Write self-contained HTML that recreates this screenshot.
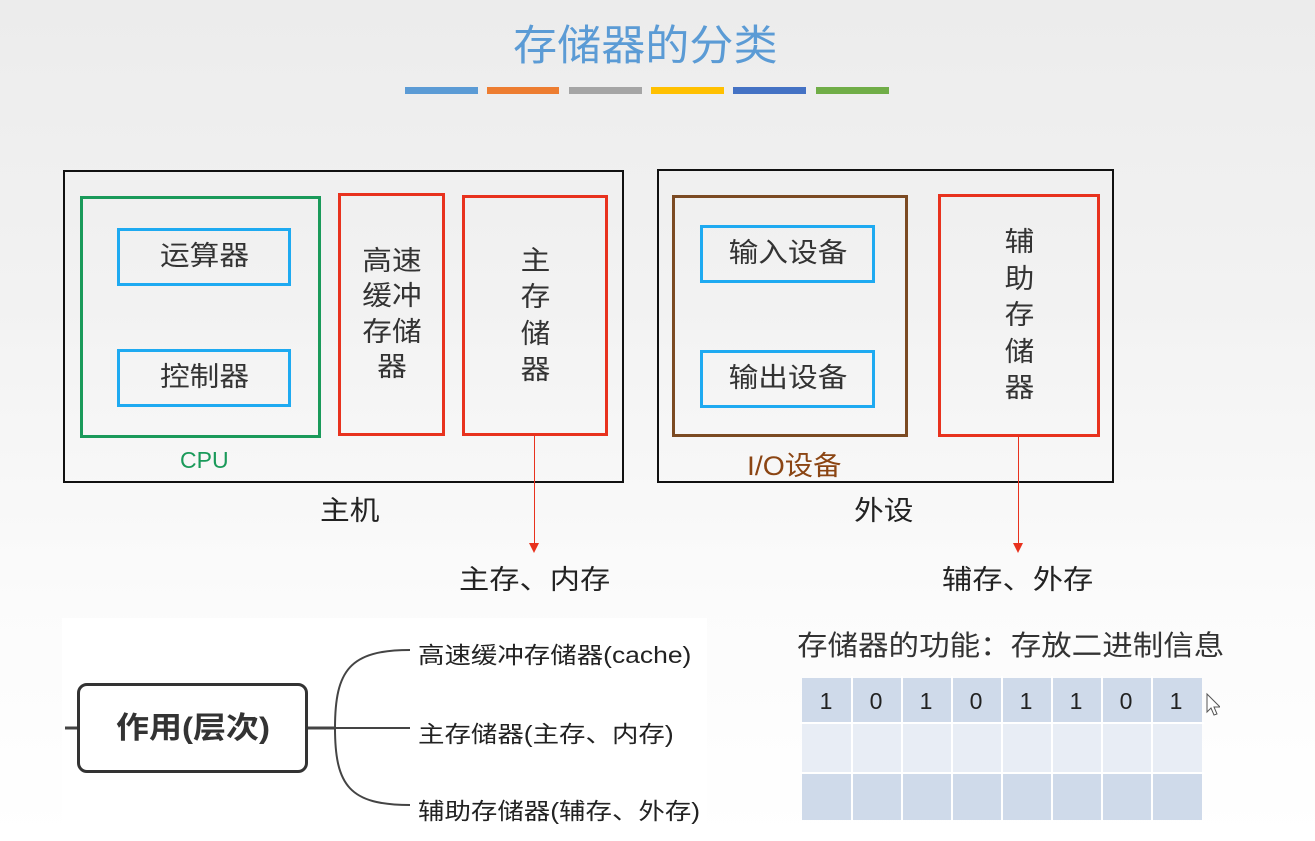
<!DOCTYPE html>
<html><head><meta charset="utf-8"><style>
body{margin:0;width:1315px;height:841px;overflow:hidden;background:linear-gradient(#ececec 0,#f2f2f2 300px,#fbfbfb 600px,#fff 841px);font-family:"Liberation Sans","Noto Sans CJK SC",sans-serif;position:relative}
.a{position:absolute;box-sizing:border-box}
.t{position:absolute;white-space:nowrap;transform-origin:0 0}
.v{position:absolute;display:flex;align-items:center;justify-content:center;text-align:center;font-size:27px;color:#333;line-height:1.3}
.v span{display:inline-block;transform:scaleX(1.1)}
</style></head><body>
<div class="t" style="left:513px;top:12px;font-size:42px;color:#5b9bd5;transform:scaleX(1.05)">存储器的分类</div>
<div class="a" style="left:405px;top:87px;width:73px;height:7px;background:#5b9bd5"></div>
<div class="a" style="left:487px;top:87px;width:72px;height:7px;background:#ed7d31"></div>
<div class="a" style="left:569px;top:87px;width:73px;height:7px;background:#a5a5a5"></div>
<div class="a" style="left:651px;top:87px;width:73px;height:7px;background:#ffc000"></div>
<div class="a" style="left:733px;top:87px;width:73px;height:7px;background:#4472c4"></div>
<div class="a" style="left:816px;top:87px;width:73px;height:7px;background:#70ad47"></div>

<div class="a" style="left:63px;top:170px;width:561px;height:313px;border:2px solid #111"></div>
<div class="a" style="left:80px;top:196px;width:241px;height:242px;border:3px solid #1a9a5a"></div>
<div class="v a" style="left:117px;top:228px;width:174px;height:58px;border:3px solid #1eaaf1"><span>运算器</span></div>
<div class="v a" style="left:117px;top:349px;width:174px;height:58px;border:3px solid #1eaaf1"><span>控制器</span></div>
<div class="t" style="left:180px;top:447px;font-size:23px;color:#1a9a5a">CPU</div>
<div class="v a" style="left:338px;top:193px;width:107px;height:243px;border:3px solid #e8321e"><span>高速<br>缓冲<br>存储<br>器</span></div>
<div class="v a" style="left:462px;top:195px;width:146px;height:241px;border:3px solid #e8321e;line-height:1.35"><span>主<br>存<br>储<br>器</span></div>
<div class="t" style="left:320px;top:489px;font-size:27px;color:#222;transform:scaleX(1.1)">主机</div>
<div class="a" style="left:534px;top:436px;width:1px;height:108px;background:#e8321e"></div>
<div class="a" style="left:529px;top:543px;width:0;height:0;border-left:5px solid transparent;border-right:5px solid transparent;border-top:10px solid #e8321e"></div>
<div class="t" style="left:459px;top:558px;font-size:27px;color:#222;transform:scaleX(1.12)">主存、内存</div>

<div class="a" style="left:657px;top:169px;width:457px;height:314px;border:2px solid #111"></div>
<div class="a" style="left:672px;top:195px;width:236px;height:242px;border:3px solid #7b4a22"></div>
<div class="v a" style="left:700px;top:225px;width:175px;height:58px;border:3px solid #1eaaf1"><span>输入设备</span></div>
<div class="v a" style="left:700px;top:350px;width:175px;height:58px;border:3px solid #1eaaf1"><span>输出设备</span></div>
<div class="t" style="left:747px;top:444px;font-size:27px;color:#8b4513;transform:scaleX(1.05)">I/O设备</div>
<div class="v a" style="left:938px;top:194px;width:162px;height:243px;border:3px solid #e8321e;line-height:1.35"><span>辅<br>助<br>存<br>储<br>器</span></div>
<div class="t" style="left:854px;top:489px;font-size:27px;color:#222;transform:scaleX(1.1)">外设</div>
<div class="a" style="left:1018px;top:437px;width:1px;height:107px;background:#e8321e"></div>
<div class="a" style="left:1013px;top:543px;width:0;height:0;border-left:5px solid transparent;border-right:5px solid transparent;border-top:10px solid #e8321e"></div>
<div class="t" style="left:942px;top:558px;font-size:27px;color:#222;transform:scaleX(1.12)">辅存、外存</div>

<div class="a" style="left:62px;top:618px;width:645px;height:223px;background:#fff"></div>
<svg class="a" style="left:0;top:600px" width="720" height="241">
<path d="M65 128H78 M307 128H335" stroke="#444" stroke-width="3" fill="none"/>
<path d="M335 128C335 70 350 50 410 50 M335 128H410 M335 128C335 186 350 205 410 205" stroke="#444" stroke-width="2" fill="none"/>
</svg>
<div class="v a" style="left:77px;top:683px;width:231px;height:90px;border:3px solid #333;border-radius:10px;font-size:30px;font-weight:bold;background:#fff"><span>作用(层次)</span></div>
<div class="t" style="left:418px;top:636px;font-size:23px;color:#222;transform:scaleX(1.15)">高速缓冲存储器(cache)</div>
<div class="t" style="left:418px;top:715px;font-size:23px;color:#222;transform:scaleX(1.15)">主存储器(主存、内存)</div>
<div class="t" style="left:418px;top:792px;font-size:23px;color:#222;transform:scaleX(1.15)">辅助存储器(辅存、外存)</div>

<div class="t" style="left:797px;top:624px;font-size:28px;color:#333;transform:scaleX(1.09)">存储器的功能：存放二进制信息</div>
<svg class="a" style="left:800px;top:676px" width="420" height="148">
<g font-family="Liberation Sans" font-size="23" fill="#222" text-anchor="middle">
<rect x="2" y="2" width="400" height="44" fill="#cfdaea"/>
<rect x="2" y="48" width="400" height="48" fill="#e8edf5"/>
<rect x="2" y="98" width="400" height="46" fill="#cfdaea"/>
<g stroke="#fff" stroke-width="2"><path d="M52 0V146M102 0V146M152 0V146M202 0V146M252 0V146M302 0V146M352 0V146M0 47H404M0 97H404"/></g>
<text x="26" y="33">1</text><text x="76" y="33">0</text><text x="126" y="33">1</text><text x="176" y="33">0</text><text x="226" y="33">1</text><text x="276" y="33">1</text><text x="326" y="33">0</text><text x="376" y="33">1</text>
</g>
<path d="M407 18V36L411 32L414 39L417 38L414 31L420 31Z" fill="#fff" stroke="#555" stroke-width="1"/>
</svg>
</body></html>
